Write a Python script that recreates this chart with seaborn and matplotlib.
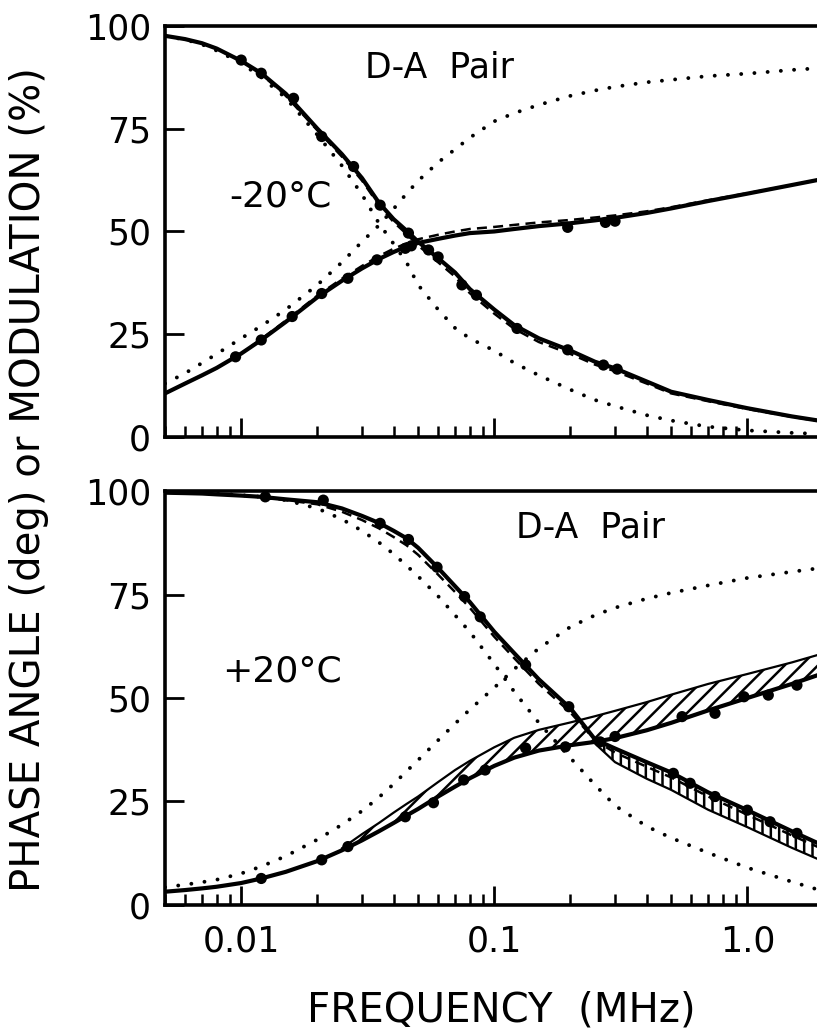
import numpy as np
import seaborn as sns
import matplotlib
matplotlib.use('Agg')
import matplotlib.pyplot as plt
from matplotlib.ticker import FixedLocator, LogLocator, NullFormatter

freq = [0.005, 0.006, 0.007, 0.008, 0.01, 0.012, 0.015, 0.02, 0.025, 0.03,
        0.035, 0.04, 0.045, 0.05, 0.06, 0.07, 0.08, 0.1, 0.12, 0.15,
        0.2, 0.25, 0.3, 0.4, 0.5, 0.7, 1.0, 1.5, 2.0]

# ---- -20 C panel ----
top_mod_fit = [97.6, 96.8, 95.8, 94.5, 91.5, 88.5, 83.5, 75.0, 68.8, 63.0,
               57.0, 53.0, 50.2, 47.5, 43.5, 40.0, 36.0, 31.0, 27.2, 24.0,
               21.0, 18.3, 16.7, 13.5, 11.0, 9.0, 7.0, 5.0, 3.8]
top_mod_alt = [97.6, 96.8, 95.8, 94.5, 91.5, 88.3, 83.0, 74.6, 68.2, 62.4,
               56.4, 52.3, 49.4, 46.6, 42.5, 39.0, 35.0, 30.0, 26.3, 23.1,
               20.2, 17.6, 16.0, 13.0, 10.6, 8.7, 6.8, 4.9, 3.7]
top_phase_fit = [10.6, 13.0, 15.0, 16.8, 20.3, 23.6, 28.0, 34.0, 38.0, 41.0,
                 43.3, 45.0, 46.3, 47.2, 48.2, 49.0, 49.6, 50.0, 50.6, 51.3,
                 52.0, 52.7, 53.3, 54.5, 55.6, 57.4, 59.2, 61.3, 62.8]
top_phase_alt = [10.6, 13.0, 15.0, 16.8, 20.3, 23.8, 28.3, 34.4, 38.5, 41.6,
                 44.0, 45.8, 47.1, 48.1, 49.2, 50.0, 50.6, 51.1, 51.6, 52.2,
                 52.8, 53.4, 53.9, 54.9, 55.9, 57.6, 59.3, 61.3, 62.8]
top_phase_donor = [13.0, 15.5, 18.0, 20.2, 24.0, 27.0, 31.0, 37.0, 42.5, 47.5,
                   51.5, 55.5, 59.2, 62.3, 66.8, 70.0, 72.8, 76.8, 78.8, 80.8,
                   83.0, 84.3, 85.2, 86.3, 86.9, 87.8, 88.4, 89.3, 89.8]
top_mod_donor = [97.5, 96.7, 95.5, 94.0, 91.0, 87.5, 82.5, 73.5, 66.0, 59.0,
                 52.0, 47.0, 42.5, 37.0, 31.0, 26.5, 24.0, 21.0, 18.0, 15.0,
                 11.5, 9.0, 7.5, 5.3, 4.0, 2.5, 1.6, 1.0, 0.7]

top_phase_pts_f = [0.0095, 0.012, 0.0159, 0.0208, 0.0264, 0.0344, 0.0445, 0.047, 0.195, 0.275, 0.30]
top_phase_pts = [19.5, 23.6, 29.3, 34.9, 38.6, 43.1, 45.9, 46.5, 51.0, 52.2, 52.5]
top_mod_pts_f = [0.010, 0.012, 0.0161, 0.0208, 0.0278, 0.0354, 0.0458, 0.055,
                 0.060, 0.0745, 0.085, 0.123, 0.195, 0.27, 0.306]
top_mod_pts = [91.7, 88.5, 82.4, 73.1, 65.8, 56.4, 49.6, 45.5,
               43.8, 37.0, 34.5, 26.4, 21.2, 17.5, 16.5]

# ---- +20 C panel ----
bot_mod_fit = [99.6, 99.5, 99.4, 99.2, 98.9, 98.6, 98.0, 97.3, 95.8, 94.0,
               92.3, 90.4, 88.6, 86.3, 81.4, 77.0, 73.2, 66.0, 60.8, 54.5,
               47.5, 40.0, 37.8, 34.5, 32.0, 27.2, 22.9, 17.8, 14.3]
bot_mod_alt = [99.6, 99.5, 99.4, 99.2, 98.9, 98.5, 97.8, 96.8, 95.0, 93.0,
               91.0, 88.9, 86.9, 84.6, 79.8, 75.6, 71.8, 64.8, 59.6, 53.4,
               46.5, 39.8, 36.8, 33.4, 30.8, 26.2, 21.8, 16.8, 13.4]
bot_phase_fit = [3.2, 3.6, 4.0, 4.4, 5.3, 6.4, 8.0, 10.6, 13.2, 15.6,
                 17.8, 19.8, 21.6, 23.2, 26.2, 28.6, 30.6, 33.6, 35.6, 37.3,
                 38.6, 39.4, 40.3, 42.2, 44.0, 47.0, 50.0, 53.4, 56.0]
bot_phase_donor = [4.3, 4.9, 5.5, 6.1, 7.6, 9.3, 11.8, 15.8, 19.4, 22.7,
                   26.0, 29.2, 32.3, 35.0, 39.8, 43.8, 47.2, 52.5, 57.0, 62.0,
                   67.2, 70.0, 71.8, 74.0, 75.4, 77.2, 79.0, 80.5, 81.5]
bot_mod_donor = [99.8, 99.7, 99.6, 99.4, 99.0, 98.6, 97.8, 95.8, 93.2, 90.4,
                 87.6, 84.8, 82.0, 79.4, 74.6, 70.0, 66.0, 58.2, 51.5, 44.0,
                 35.5, 29.0, 24.0, 19.0, 16.2, 12.6, 9.0, 5.6, 3.3]

# hatched uncertainty bands (+20 C)
band_phase_f = freq[8:]
band_phase_hi = [13.7, 17.1, 19.8, 22.3, 24.4, 26.2, 29.7, 32.6, 34.8, 38.1,
                 40.4, 42.3, 44.1, 45.6, 46.9, 49.0, 50.8, 53.4, 55.8, 58.6, 60.8]
band_mod_f = freq[21:]
band_mod_lo = [39.0, 34.5, 30.5, 27.8, 23.0, 18.8, 13.8, 10.5]

bot_mod_pts_f = [0.01245, 0.0211, 0.0354, 0.0458, 0.0594, 0.0763, 0.088, 0.133,
                 0.197, 0.262, 0.51, 0.594, 0.745, 1.0, 1.23, 1.57]
bot_mod_pts = [98.6, 97.8, 92.2, 88.3, 81.6, 74.5, 69.6, 58.0,
               47.9, 39.4, 31.8, 29.4, 26.2, 22.9, 20.1, 17.3]
bot_phase_pts_f = [0.012, 0.0208, 0.0264, 0.0445, 0.0575, 0.0757, 0.092, 0.133,
                   0.191, 0.30, 0.552, 0.745, 0.97, 1.21, 1.57]
bot_phase_pts = [6.4, 10.9, 14.1, 21.3, 24.7, 30.2, 32.6, 37.9,
                 38.2, 40.7, 45.5, 46.3, 50.3, 50.7, 53.1]

xtick_vals = [0.01, 0.1, 1.0]
xtick_labels = ['0.01', '0.1', '1.0']
ytick_vals = [0, 25, 50, 75, 100]

#=====================================================
sns.set_style('ticks')
plt.rcParams['font.family'] = ['DejaVu Sans']
plt.rcParams['hatch.linewidth'] = 1.8
plt.rcParams['text.color'] = 'black'
plt.rcParams['axes.edgecolor'] = 'black'
plt.rcParams['xtick.color'] = 'black'
plt.rcParams['ytick.color'] = 'black'
plt.rcParams['axes.labelcolor'] = 'black'

fig = plt.figure(figsize=(8.17, 10.34), dpi=100)
ax1 = fig.add_axes([0.202, 0.5774, 0.806, 0.3975])
ax2 = fig.add_axes([0.202, 0.1248, 0.806, 0.4003])

dotted = dict(color='k', lw=2.8, linestyle=(0, (0.01, 3.4)), dash_capstyle='round')
solid = dict(color='k', lw=3.0)
dashed = dict(color='k', lw=1.8, linestyle=(0, (4, 2.5)))


def draw_panel(ax, mod_fit, mod_alt, ph_fit, ph_alt, ph_donor, mod_donor,
               ph_pf, ph_p, mod_pf, mod_p):
    sns.lineplot(x=freq, y=ph_donor, ax=ax, sort=False, estimator=None, **dotted)
    sns.lineplot(x=freq, y=mod_donor, ax=ax, sort=False, estimator=None, **dotted)
    if mod_alt is not None:
        sns.lineplot(x=freq, y=mod_alt, ax=ax, sort=False, estimator=None, **dashed)
    if ph_alt is not None:
        sns.lineplot(x=freq, y=ph_alt, ax=ax, sort=False, estimator=None, **dashed)
    sns.lineplot(x=freq, y=mod_fit, ax=ax, sort=False, estimator=None, **solid)
    sns.lineplot(x=freq, y=ph_fit, ax=ax, sort=False, estimator=None, **solid)
    sns.scatterplot(x=ph_pf, y=ph_p, ax=ax, color='k', s=65, edgecolor='none', zorder=5)
    sns.scatterplot(x=mod_pf, y=mod_p, ax=ax, color='k', s=65, edgecolor='none', zorder=5)


draw_panel(ax1, top_mod_fit, top_mod_alt, top_phase_fit, top_phase_alt,
           top_phase_donor, top_mod_donor,
           top_phase_pts_f, top_phase_pts, top_mod_pts_f, top_mod_pts)
draw_panel(ax2, bot_mod_fit, bot_mod_alt, bot_phase_fit, None,
           bot_phase_donor, bot_mod_donor,
           bot_phase_pts_f, bot_phase_pts, bot_mod_pts_f, bot_mod_pts)

ax2.fill_between(band_phase_f, bot_phase_fit[8:], band_phase_hi,
                 facecolor='none', edgecolor='k', hatch='//', lw=1.6)
ax2.fill_between(band_mod_f, band_mod_lo, bot_mod_fit[21:],
                 facecolor='none', edgecolor='k', hatch='||', lw=1.6)

for ax in (ax1, ax2):
    ax.set_xscale('log')
    ax.set_xlim(0.005, 2.0)
    ax.set_ylim(0, 100)
    ax.xaxis.set_major_locator(FixedLocator(xtick_vals))
    ax.xaxis.set_minor_locator(LogLocator(base=10, subs=np.arange(2, 10)))
    ax.xaxis.set_minor_formatter(NullFormatter())
    ax.set_yticks(ytick_vals)
    ax.set_yticklabels([str(v) for v in ytick_vals])
    ax.tick_params(axis='both', which='major', direction='in', length=14, width=2,
                   labelsize=25, top=False, right=False, colors='black')
    ax.tick_params(axis='x', which='minor', direction='in', length=8, width=1.8,
                   top=False, colors='black')
    ax.tick_params(axis='y', which='major', pad=10)
    ax.tick_params(axis='x', which='major', pad=14)
    for s in ('left', 'bottom', 'top'):
        ax.spines[s].set_linewidth(2.6)
        ax.spines[s].set_color('black')
    ax.spines['right'].set_visible(False)
    ax.set_xlabel('')
    ax.set_ylabel('')

ax1.set_xticklabels([])
ax2.set_xticklabels(xtick_labels)

ax1.text(0.0606, 89.8, 'D-A  Pair', fontsize=25, ha='center', va='center')
ax1.text(0.01426, 58.4, '-20°C', fontsize=26, ha='center', va='center')
ax2.text(0.239, 91.3, 'D-A  Pair', fontsize=25, ha='center', va='center')
ax2.text(0.01452, 56.3, '+20°C', fontsize=26, ha='center', va='center')

fig.text(0.0355, 0.536, 'PHASE ANGLE (deg) or MODULATION (%)', rotation=90,
         fontsize=29, ha='center', va='center')
fig.text(0.614, 0.023, 'FREQUENCY  (MHz)', fontsize=29, ha='center', va='center')

plt.savefig('out.png', dpi=100)
